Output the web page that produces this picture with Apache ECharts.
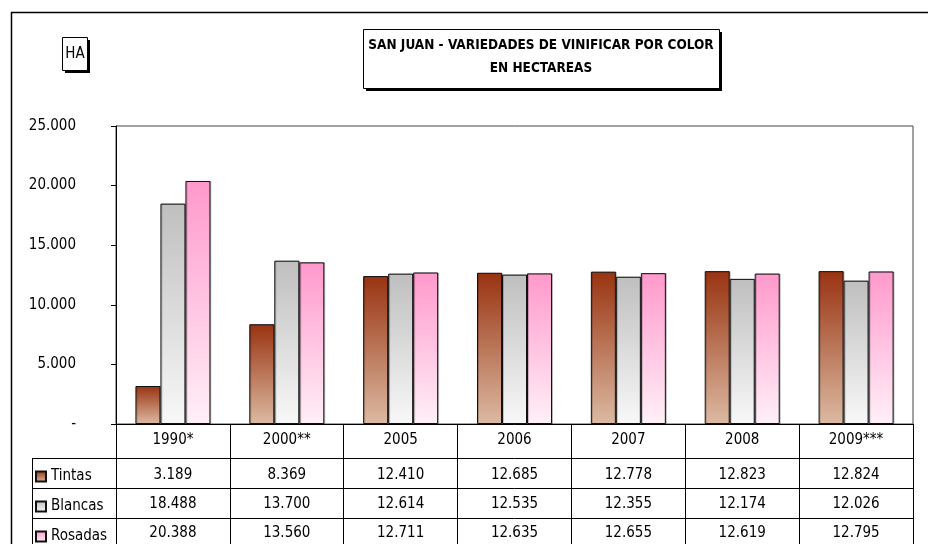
<!DOCTYPE html>
<html>
<head>
<meta charset="utf-8">
<script src="https://cdn.jsdelivr.net/npm/echarts@6/dist/echarts.min.js"></script>
<style>
  html, body { margin: 0; padding: 0; background: #fff; }
  #myChart { width: 928px; height: 544px; }
</style>
</head>
<body>
<div id="myChart"></div>
<script>
// data (hectares)
const years = ['1990*', '2000**', '2005', '2006', '2007', '2008', '2009***'];
const tintas = [3189, 8369, 12410, 12685, 12778, 12823, 12824];
const blancas = [18488, 13700, 12614, 12535, 12355, 12174, 12026];
const rosadas = [20388, 13560, 12711, 12635, 12655, 12619, 12795];
const seriesNames = ['Tintas', 'Blancas', 'Rosadas'];

const FONT = '"Liberation Sans Narrow", "Arial Narrow", "DejaVu Sans Condensed", sans-serif';

function fmt(v) {
	if (v === 0) return '-';
	return String(v).replace(/\B(?=(\d{3})+(?!\d))/g, '.');
}

function grad(top, bottom) {
	return new echarts.graphic.LinearGradient(0, 0, 0, 1, [
		{ offset: 0, color: top },
		{ offset: 1, color: bottom }
	]);
}

// one bottom x axis per table row, the axis line is the row border
function rowAxis(offset, margin, tickLen, values) {
	return {
		type: 'category',
		position: 'bottom',
		offset: offset,
		data: years,
		axisLine: { show: true, lineStyle: { color: '#000', width: 1 } },
		axisTick: { show: true, length: tickLen, lineStyle: { color: '#000' } },
		axisLabel: {
			margin: margin,
			fontFamily: FONT,
			fontSize: 15,
			lineHeight: 15,
			color: '#000',
			formatter: function (val, idx) { return values ? fmt(values[idx]) : val; }
		}
	};
}

// box with a hard black drop shadow
function shadowBox(x, y, w, h) {
	return [
		{ type: 'rect', shape: { x: x + 3, y: y + 3, width: w, height: h }, style: { fill: '#000' } },
		{ type: 'rect', shape: { x: x + 0.5, y: y + 0.5, width: w, height: h }, style: { fill: '#fff', stroke: '#000', lineWidth: 1 } }
	];
}

const colors = [
	{ top: '#993311', bottom: '#dcbaa2' },
	{ top: '#bfbfbf', bottom: '#f8f8f8' },
	{ top: '#ff99cc', bottom: '#fff0f8' }
];
const dataRows = [tintas, blancas, rosadas];

const myChart = echarts.init(document.getElementById('myChart'));
myChart.setOption({
	backgroundColor: '#fff',
	animation: false,
	grid: {
		left: 116, right: 15, top: 126, bottom: 120,
		show: true, borderColor: '#444', borderWidth: 1
	},
	legend: {
		orient: 'vertical',
		left: 35,
		top: 469,
		height: 90,
		padding: 0,
		itemWidth: 10,
		itemHeight: 10,
		itemGap: 15,
		icon: 'rect',
		selectedMode: false,
		textStyle: { fontFamily: FONT, fontSize: 15, lineHeight: 15, color: '#000' },
		data: seriesNames
	},
	xAxis: [
		rowAxis(0, 9, 34, null),
		rowAxis(34, 10, 30, tintas),
		rowAxis(64, 9, 30, blancas),
		rowAxis(94, 8, 40, rosadas)
	],
	yAxis: {
		type: 'value',
		min: 0,
		max: 25000,
		interval: 5000,
		splitLine: { show: false },
		axisLine: { show: true, lineStyle: { color: '#000' } },
		axisTick: { show: true, length: 5, lineStyle: { color: '#000' } },
		axisLabel: {
			margin: 40,
			fontFamily: FONT,
			fontSize: 15,
			color: '#000',
			formatter: fmt
		}
	},
	series: seriesNames.map(function (name, i) {
		return {
			name: name,
			type: 'bar',
			xAxisIndex: 0,
			barWidth: 25,
			barGap: '0%',
			data: dataRows[i],
			itemStyle: {
				color: grad(colors[i].top, colors[i].bottom),
				borderColor: '#111',
				borderWidth: 1,
				shadowColor: 'rgba(0,0,0,0.2)',
				shadowOffsetX: 1,
				shadowOffsetY: 0
			}
		};
	}),
	graphic: [
		// outer frame
		{ type: 'rect', shape: { x: 11.5, y: 12.5, width: 930, height: 540 }, style: { fill: null, stroke: '#000', lineWidth: 1.5 } },
		// legend column of the data table
		{ type: 'line', shape: { x1: 32, y1: 458.5, x2: 116, y2: 458.5 }, style: { stroke: '#000' } },
		{ type: 'line', shape: { x1: 32, y1: 488.5, x2: 116, y2: 488.5 }, style: { stroke: '#000' } },
		{ type: 'line', shape: { x1: 32, y1: 518.5, x2: 116, y2: 518.5 }, style: { stroke: '#000' } },
		{ type: 'line', shape: { x1: 32.5, y1: 458, x2: 32.5, y2: 544 }, style: { stroke: '#000' } }
	].concat(
		shadowBox(62, 37, 25, 33),
		[{ type: 'text', x: 75, y: 54, style: { text: 'HA', fontFamily: FONT, fontSize: 15, fill: '#000', align: 'center', verticalAlign: 'middle' } }],
		shadowBox(363, 29, 356, 59),
		[
			{ type: 'text', x: 541, y: 45, style: { text: 'SAN JUAN - VARIEDADES DE VINIFICAR POR COLOR', fontFamily: FONT, fontSize: 13.5, fontWeight: 'bold', fill: '#000', align: 'center', verticalAlign: 'middle' } },
			{ type: 'text', x: 541, y: 68, style: { text: 'EN HECTAREAS', fontFamily: FONT, fontSize: 13.5, fontWeight: 'bold', fill: '#000', align: 'center', verticalAlign: 'middle' } }
		]
	)
});
</script>
</body>
</html>
